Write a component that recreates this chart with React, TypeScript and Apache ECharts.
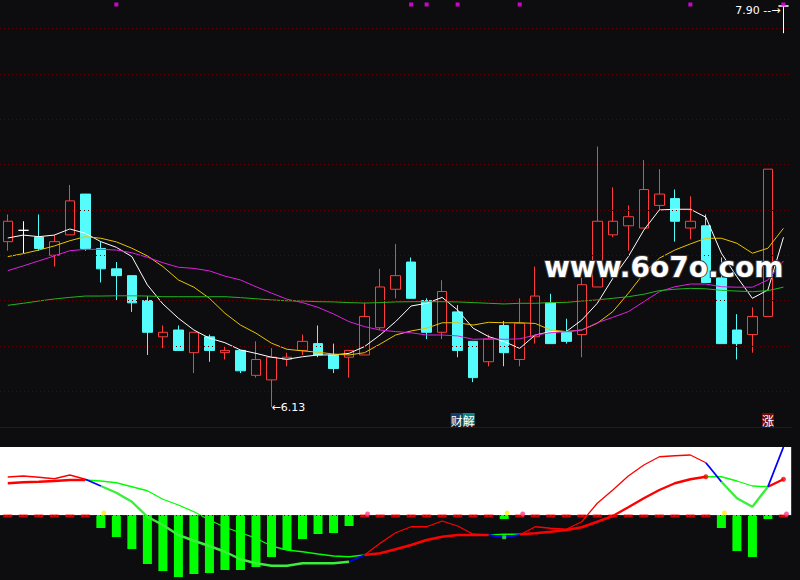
import React, { useEffect, useRef } from "react";
import * as echarts from "echarts";

const categories = [
  "1","2","3","4","5","6","7","8","9","10","11","12","13","14","15","16","17",
  "18","19","20","21","22","23","24","25","26","27","28","29","30","31","32","33","34",
  "35","36","37","38","39","40","41","42","43","44","45","46","47","48","49","50","51",
];

const opens = [6.86,6.91,6.88,6.80,6.89,7.07,6.83,6.74,6.71,6.60,6.44,6.47,6.37,6.44,6.37,6.38,6.27,6.25,6.34,6.38,6.41,6.36,6.35,6.36,6.48,6.65,6.77,6.60,6.46,6.55,6.42,6.33,6.49,6.34,6.44,6.59,6.46,6.45,6.66,6.89,6.93,6.92,7.02,7.05,6.92,6.93,6.70,6.47,6.45,6.53,7.90];
const closes = [6.95,6.91,6.83,6.86,7.04,6.83,6.74,6.71,6.59,6.46,6.46,6.38,6.46,6.38,6.38,6.29,6.34,6.35,6.35,6.42,6.36,6.30,6.38,6.53,6.66,6.71,6.61,6.46,6.64,6.38,6.26,6.43,6.37,6.50,6.62,6.41,6.42,6.67,6.95,6.95,6.97,7.09,7.07,6.95,6.95,6.68,6.41,6.41,6.53,7.18,7.90];
const lows = [6.82,6.81,6.82,6.75,6.89,6.82,6.68,6.60,6.55,6.36,6.39,6.38,6.28,6.33,6.34,6.28,6.26,6.13,6.31,6.36,6.35,6.28,6.26,6.36,6.47,6.61,6.61,6.43,6.43,6.35,6.24,6.31,6.31,6.31,6.41,6.41,6.41,6.35,6.66,6.88,6.82,6.92,7.00,6.86,6.87,6.68,6.41,6.34,6.37,6.53,7.78];
const highs = [6.98,6.95,6.98,6.89,7.11,7.07,6.86,6.77,6.71,6.62,6.49,6.49,6.46,6.45,6.40,6.38,6.42,6.39,6.37,6.45,6.49,6.41,6.38,6.59,6.74,6.85,6.79,6.61,6.69,6.58,6.42,6.45,6.51,6.61,6.75,6.63,6.52,6.70,7.28,7.10,7.02,7.22,7.18,7.09,7.06,6.98,6.79,6.54,6.57,7.18,7.90];

const ma5 = [6.876,6.889,6.882,6.889,6.916,6.897,6.860,6.835,6.794,6.669,6.585,6.522,6.470,6.434,6.414,6.382,6.367,6.350,6.341,6.352,6.360,6.360,6.367,6.397,6.448,6.507,6.576,6.588,6.614,6.558,6.478,6.441,6.419,6.389,6.448,6.463,6.463,6.514,6.588,6.698,6.794,6.911,7.000,7.003,7.003,6.968,6.809,6.705,6.610,6.647,6.879];
const ma10 = [6.794,6.807,6.823,6.841,6.864,6.882,6.875,6.859,6.831,6.797,6.750,6.691,6.659,6.610,6.544,6.492,6.456,6.412,6.385,6.378,6.372,6.364,6.360,6.370,6.408,6.448,6.466,6.478,6.502,6.502,6.492,6.504,6.502,6.502,6.499,6.470,6.463,6.470,6.500,6.551,6.632,6.720,6.787,6.823,6.850,6.875,6.875,6.853,6.809,6.831,6.919];
const ma20 = [6.732,6.753,6.775,6.797,6.820,6.826,6.826,6.823,6.811,6.791,6.767,6.747,6.742,6.731,6.708,6.691,6.661,6.633,6.606,6.591,6.570,6.541,6.507,6.485,6.470,6.463,6.458,6.448,6.448,6.444,6.429,6.431,6.429,6.431,6.448,6.458,6.463,6.470,6.502,6.526,6.551,6.595,6.639,6.661,6.673,6.673,6.661,6.659,6.659,6.691,6.775];
const ma60 = [6.579,6.588,6.598,6.607,6.614,6.620,6.620,6.621,6.621,6.620,6.617,6.617,6.617,6.617,6.617,6.613,6.608,6.603,6.599,6.598,6.595,6.594,6.591,6.589,6.591,6.594,6.595,6.595,6.595,6.594,6.591,6.588,6.585,6.588,6.588,6.591,6.592,6.598,6.603,6.610,6.617,6.628,6.644,6.650,6.654,6.652,6.645,6.642,6.639,6.644,6.659];

const dif = [0.152,0.156,0.151,0.145,0.160,0.143,0.116,0.089,0.053,-0.007,-0.040,-0.080,-0.103,-0.124,-0.147,-0.177,-0.193,-0.203,-0.203,-0.193,-0.193,-0.193,-0.187,-0.160,-0.113,-0.071,-0.047,-0.047,-0.024,-0.044,-0.077,-0.080,-0.089,-0.080,-0.047,-0.053,-0.057,-0.027,0.047,0.100,0.156,0.200,0.233,0.237,0.240,0.209,0.133,0.067,0.033,0.113,0.272];
const dea = [0.127,0.131,0.133,0.136,0.140,0.140,0.136,0.129,0.113,0.097,0.063,0.040,0.013,-0.020,-0.049,-0.071,-0.093,-0.124,-0.140,-0.147,-0.156,-0.164,-0.167,-0.160,-0.153,-0.137,-0.120,-0.100,-0.087,-0.080,-0.080,-0.080,-0.077,-0.077,-0.073,-0.067,-0.060,-0.049,-0.027,-0.004,0.031,0.067,0.100,0.127,0.143,0.153,0.153,0.136,0.116,0.113,0.143];
const hist: (number | string)[] = ["-","-","-","-","-","-",-0.052,-0.088,-0.136,-0.196,-0.224,-0.248,-0.236,-0.232,-0.220,-0.220,-0.208,-0.168,-0.140,-0.096,-0.076,-0.072,-0.044,"-","-","-","-","-","-","-","-","-",-0.016,"-","-","-","-","-","-","-","-","-","-","-","-","-",-0.052,-0.144,-0.168,-0.016,"-"];

const zeroMarkIdx = [0,1,2,3,4,5,23,24,25,26,27,28,29,30,31,33,34,35,36,37,38,39,40,41,42,43,44,45,50];
const topSignalIdx = [7,26,27,29,33,44,50];
const crossDownIdx = [6,32,46];
const crossUpIdx = [23,33,50];
const gridPrices = [6.2,6.4,6.6,6.8,7.0,7.2,7.4,7.6,7.8];

const difSegs = {
  red: [[0,5],[23,31],[33,45]],
  blue: [[5,6],[22,23],[31,33],[45,46],[49,50]],
  green: [[6,22],[46,49]],
};
const deaSegs = {
  red: [[0,5],[23,31],[33,45],[49,50]],
  green: [[5,23],[31,33],[45,49]],
};

const lowIdx = 17;
const lowLabel = "6.13";
const highIdx = 50;
const highLabel = "7.90";

function mask(values: number[], segs: number[][]) {
  const out: (number | string)[] = values.map(() => "-");
  segs.forEach(([a, b]) => {
    for (let i = a; i <= b; i++) out[i] = values[i];
  });
  return out;
}

const BG = "#0d0d10";

export default function App() {
  const ref = useRef<HTMLDivElement>(null);
  useEffect(() => {
    document.body.style.margin = "0";
    document.body.style.background = BG;
    const chart = echarts.init(ref.current!, undefined, { renderer: "svg" });
    const candleData = opens.map((o, i) => [o, closes[i], lows[i], highs[i]]);
    const PMIN = 6.042;
    const PMAX = 7.9265;
    const LMIN = -0.256;
    const LMAX = 0.272;
    const gridLine = { color: "#5e0000", width: 1, type: [1, 3] as any };
    const maLine = (name: string, data: number[], color: string) => ({
      name, type: "line", data, xAxisIndex: 0, yAxisIndex: 0, symbol: "none",
      lineStyle: { color, width: 1 }, z: 4, silent: true,
    });
    const lowerLine = (data: (number | string)[], color: string, width: number, z: number) => ({
      type: "line", data, xAxisIndex: 1, yAxisIndex: 1, symbol: "none",
      lineStyle: { color, width }, z, silent: true,
    });
    const option: any = {
      animation: false,
      backgroundColor: BG,
      grid: [
        { left: -1.8, width: 793, top: 0, height: 427 },
        { left: -1.8, width: 793, top: 447, height: 132 },
      ],
      xAxis: [
        { type: "category", data: categories, gridIndex: 0, boundaryGap: true,
          axisLine: { show: true, lineStyle: { color: "#640000", width: 1 } },
          axisTick: { show: false }, axisLabel: { show: false }, splitLine: { show: false } },
        { type: "category", data: categories, gridIndex: 1, boundaryGap: true,
          axisLine: { show: true, lineStyle: { color: "#640000", width: 1 } },
          axisTick: { show: false }, axisLabel: { show: false }, splitLine: { show: false } },
      ],
      yAxis: [
        { type: "value", gridIndex: 0, min: PMIN, max: PMAX, show: false, splitLine: { show: false } },
        { type: "value", gridIndex: 1, min: LMIN, max: LMAX, show: false, splitLine: { show: false } },
      ],
      graphic: [
        {
          type: "text", left: 543, top: 252, z: 100,
          style: {
            text: "www.6o7o.com", fill: "#ffffff", stroke: "#3c3c3c", lineWidth: 2,
            font: "bold 28px 'DejaVu Sans'",
          },
        },
      ],
      series: [
        {
          type: "candlestick", data: candleData, xAxisIndex: 0, yAxisIndex: 0,
          barWidth: 10, z: 3,
          itemStyle: {
            color: "transparent", color0: "#54fcfc",
            borderColor: "#ff3c3c", borderColor0: "#54fcfc",
            borderColorDoji: "#ffffff", borderWidth: 1,
          },
          markLine: {
            silent: true, symbol: "none", label: { show: false },
            lineStyle: gridLine,
            data: gridPrices.map((p) => ({ yAxis: p })),
          },
          markPoint: {
            silent: true, symbol: "circle", symbolSize: 0,
            data: [
              {
                coord: [categories[lowIdx], lows[lowIdx]],
                label: { show: true, position: "right", distance: 0, formatter: "←" + lowLabel,
                  color: "#ffffff", fontSize: 11, fontFamily: "DejaVu Sans" },
              },
              {
                coord: [categories[highIdx], highs[highIdx]],
                label: { show: true, position: "left", distance: 3, offset: [0, 4], formatter: highLabel + " --→",
                  color: "#ffffff", fontSize: 11, fontFamily: "DejaVu Sans" },
              },
              {
                coord: [categories[29], 6.075],
                label: { show: true, position: "inside", offset: [5, 0], formatter: "{a|财}{b|解}",
                  rich: {
                    a: { backgroundColor: "#143c6a", color: "#ffffff", fontSize: 12, fontFamily: "Noto Sans CJK SC", padding: [1, 0, 0, 0] },
                    b: { backgroundColor: "#0b8686", color: "#ffffff", fontSize: 12, fontFamily: "Noto Sans CJK SC", padding: [1, 0, 0, 0] },
                  } },
              },
              {
                coord: [categories[49], 6.075],
                label: { show: true, position: "inside", offset: [0, 0], formatter: "{a|涨}",
                  rich: {
                    a: { backgroundColor: "#6e0a0a", color: "#ffffff", fontSize: 12, fontFamily: "Noto Sans CJK SC", padding: [1, 0, 0, 0] },
                  } },
              },
            ],
          },
        },
        maLine("MA5", ma5, "#ffffff"),
        maLine("MA10", ma10, "#e8c400"),
        maLine("MA20", ma20, "#dd22dd"),
        maLine("MA60", ma60, "#22b422"),
        {
          type: "scatter", xAxisIndex: 0, yAxisIndex: 0, symbol: "rect", symbolSize: 4,
          data: topSignalIdx.map((i) => [i, 7.9066]), itemStyle: { color: "#ff00ff" }, z: 5, silent: true,
        },
        {
          type: "bar", data: hist, xAxisIndex: 1, yAxisIndex: 1, barWidth: 9, z: 2, silent: true,
          itemStyle: { color: "#00ff00" },
          markArea: {
            silent: true,
            itemStyle: { color: "#ffffff", opacity: 1 },
            data: [[{ yAxis: 0 }, { yAxis: LMAX }]],
          },
          markLine: {
            silent: true, symbol: "none", label: { show: false },
            lineStyle: { color: "#8a0000", width: 1, type: [1, 3] },
            data: [{ yAxis: 0 }],
          },
        },
        {
          type: "scatter", xAxisIndex: 1, yAxisIndex: 1, symbol: "rect", symbolSize: [9, 3],
          symbolOffset: [0, 1],
          data: zeroMarkIdx.map((i) => [i, 0]), itemStyle: { color: "#ff0000" }, z: 3, silent: true,
        },
        lowerLine(mask(dea, deaSegs.red), "#ff0000", 2.4, 4),
        lowerLine(mask(dea, deaSegs.green), "#00ff00", 1.3, 4),
        lowerLine(mask(dif, difSegs.red), "#ff0000", 1.3, 5),
        lowerLine(mask(dif, difSegs.green), "#3cee3c", 2.4, 5),
        lowerLine(mask(dif, difSegs.blue), "#0000ff", 1.8, 5),
        {
          type: "scatter", xAxisIndex: 1, yAxisIndex: 1, symbol: "circle", symbolSize: 5,
          symbolOffset: [3, -2],
          data: crossDownIdx.map((i) => [i, 0]), itemStyle: { color: "#ffee00" }, z: 6, silent: true,
        },
        {
          type: "scatter", xAxisIndex: 1, yAxisIndex: 1, symbol: "circle", symbolSize: 5,
          symbolOffset: [3, -1],
          data: crossUpIdx.map((i) => [i, 0]), itemStyle: { color: "#ff3c8c" }, z: 6, silent: true,
        },
        {
          type: "scatter", xAxisIndex: 1, yAxisIndex: 1, symbol: "rect", symbolSize: 4,
          data: [[32, dif[32]]], itemStyle: { color: "#3cee3c" }, z: 7, silent: true,
        },
        {
          type: "scatter", xAxisIndex: 1, yAxisIndex: 1, symbol: "circle", symbolSize: 5,
          data: [[45, dea[45]], [50, dea[50]]], itemStyle: { color: "#ff0000" }, z: 7, silent: true,
        },
      ],
    };
    chart.setOption(option);
    return () => chart.dispose();
  }, []);
  return <div ref={ref} style={{ width: 800, height: 580 }} />;
}
